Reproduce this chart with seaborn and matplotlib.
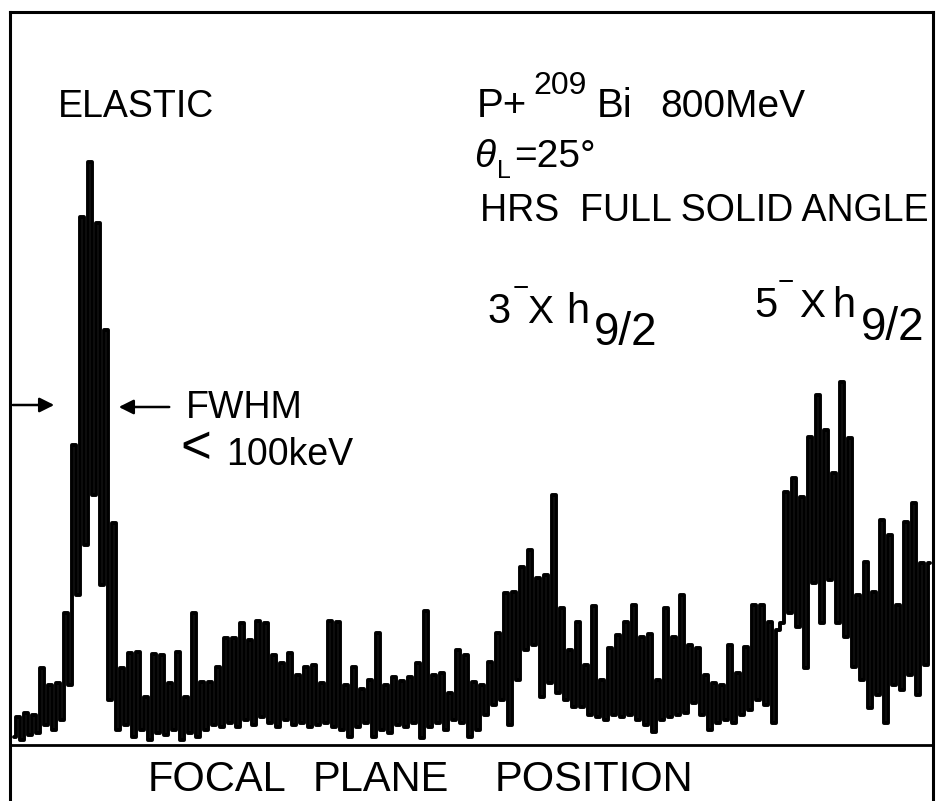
import matplotlib
matplotlib.use('Agg')
import matplotlib.pyplot as plt
import numpy as np
import pandas as pd
import seaborn as sns

# spectrum: lower and upper edge of the trace in each channel group
band_low = [8, 5, 10, 12, 20, 15, 25, 60, 150, 200,
            250, 160, 45, 15, 20, 8, 15, 5, 12, 10,
            15, 5, 12, 8, 15, 20, 18, 22, 18, 25,
            20, 28, 22, 18, 25, 20, 22, 18, 20, 22,
            18, 15, 8, 18, 22, 8, 15, 12, 20, 18,
            22, 7, 18, 22, 15, 25, 22, 8, 15, 30,
            40, 45, 20, 65, 95, 100, 48, 62, 52, 45,
            38, 38, 30, 28, 25, 30, 28, 30, 25, 20,
            13, 25, 28, 30, 32, 42, 30, 15, 22, 25,
            22, 30, 35, 45, 40, 22, 122, 132, 118, 77,
            162, 122, 165, 122, 108, 78, 65, 37, 50, 22,
            60, 55, 70, 50, 80]
band_high = [28, 32, 30, 77, 60, 62, 132, 300, 528, 583,
             522, 415, 222, 77, 92, 93, 48, 91, 90, 62,
             93, 48, 132, 63, 63, 78, 107, 107, 122, 105,
             124, 122, 90, 82, 92, 70, 78, 80, 62, 124,
             123, 60, 78, 56, 65, 112, 60, 68, 64, 68,
             82, 134, 70, 72, 52, 95, 90, 63, 60, 83,
             112, 152, 153, 178, 195, 167, 170, 250, 137, 95,
             123, 80, 139, 65, 97, 110, 123, 140, 108, 111,
             65, 137, 108, 150, 100, 97, 70, 62, 60, 100,
             72, 98, 140, 140, 123, 115, 253, 267, 248, 308,
             350, 315, 272, 363, 307, 150, 183, 153, 225, 210,
             140, 223, 242, 182, 182]

W, H = 941, 801

sns.set_theme(style='white')
plt.rcParams['font.family'] = ['Liberation Sans', 'DejaVu Sans']
plt.rcParams['text.color'] = 'black'

counts = np.column_stack([band_low, band_high]).ravel()
df = pd.DataFrame({'channel': np.arange(len(counts)), 'counts': counts})

fig = plt.figure(figsize=(W / 100, H / 100), dpi=100)
ax = fig.add_axes([10 / W, 0, 923 / W, 789 / H])

sns.lineplot(data=df, x='channel', y='counts', color='black', linewidth=2.8,
             drawstyle='steps-mid', estimator=None, ax=ax)
ax.axhline(0, color='black', linewidth=2.0)

ax.set_xlim(-1, 229.75)
ax.set_ylim(-56, 733)
ax.set_xticks([])
ax.set_yticks([])
ax.set_xlabel('')
ax.set_ylabel('')
for side in ['left', 'right', 'top']:
    ax.spines[side].set_color('black')
    ax.spines[side].set_linewidth(2.2)
ax.spines['bottom'].set_visible(False)


def put(x, y, s, size, **kw):
    # x, y in pixels from the top-left corner, y is the baseline
    fig.text(x / W, 1 - y / H, s, fontsize=size, ha='left', va='baseline',
             color='black', **kw)


put(58, 117, 'ELASTIC', 27)

put(477, 117, 'P+', 29)
put(533, 94, '209', 23)
put(597, 117, 'Bi', 29)
put(660, 117, '800MeV', 28)

put(474, 167, 'θ', 28, style='italic')
put(497, 178, 'L', 18)
put(514, 167, '=25°', 28)

put(480, 221, 'HRS  FULL SOLID ANGLE', 27)

put(487, 323, '3', 30)
put(513, 296, '−', 20)
put(527, 323, 'X', 28)
put(566, 323, 'h', 30)
put(594, 345, '9/2', 33)

put(754, 317, '5', 30)
put(778, 290, '−', 20)
put(799, 317, 'X', 28)
put(832, 317, 'h', 30)
put(861, 340, '9/2', 33)

put(186, 418, 'FWHM', 27)
put(180, 463, '<', 38)
put(226, 465, '100keV', 27)

ax.annotate('', xy=(57, H - 405), xytext=(10, H - 405),
            xycoords='figure pixels', textcoords='figure pixels',
            arrowprops=dict(arrowstyle='-|>', color='black', lw=1.8, mutation_scale=22))
ax.annotate('', xy=(116, H - 407), xytext=(172, H - 407),
            xycoords='figure pixels', textcoords='figure pixels',
            arrowprops=dict(arrowstyle='-|>', color='black', lw=1.8, mutation_scale=22))

put(148, 791, 'FOCAL', 30)
put(313, 791, 'PLANE', 30)
put(495, 791, 'POSITION', 30)

fig.savefig('out.png', dpi=100, facecolor='white')
